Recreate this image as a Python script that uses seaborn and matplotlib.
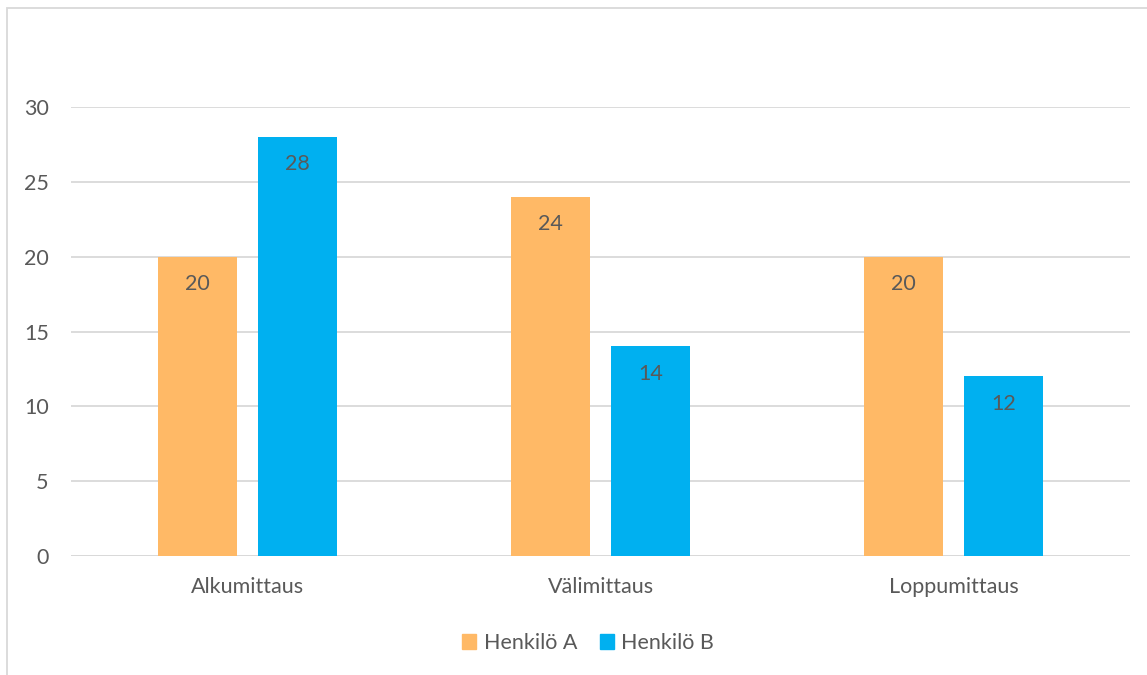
import matplotlib
matplotlib.use("Agg")
import matplotlib.pyplot as plt
import seaborn as sns
import pandas as pd
from matplotlib.patches import Rectangle

categories = ["Alkumittaus", "Välimittaus", "Loppumittaus"]
series_names = ["Henkilö A", "Henkilö B"]
henkilo_a = [20, 24, 20]
henkilo_b = [28, 14, 12]
y_ticks = [0, 5, 10, 15, 20, 25, 30]

colors = ["#FFB966", "#00B0F0"]
text_color = "#595959"
grid_color = "#D9D9D9"

df = pd.DataFrame({
    "Mittaus": categories * 2,
    "Henkilö": [series_names[0]] * 3 + [series_names[1]] * 3,
    "Arvo": henkilo_a + henkilo_b,
})

sns.set_style("white")
plt.rcParams["font.family"] = ["Lato", "DejaVu Sans"]

W, H = 1147, 675
fig = plt.figure(figsize=(W / 100, H / 100), dpi=100)
ax = fig.add_axes([71 / W, 1 - 556 / H, (1130 - 71) / W, (556 - 107) / H])

sns.barplot(data=df, x="Mittaus", y="Arvo", hue="Henkilö", palette=colors,
            order=categories, hue_order=series_names,
            width=0.5666, gap=0.21, ax=ax, legend=False, saturation=1,
            edgecolor="none", linewidth=0)

fs = 15.5
ax.set_ylim(0, 30)
ax.set_xlim(-0.5, 2.5)
ax.set_yticks(y_ticks)
ax.yaxis.grid(True, color=grid_color, linewidth=1.3)
ax.set_axisbelow(True)
for s in ax.spines.values():
    s.set_visible(False)
ax.axhline(0, color=grid_color, linewidth=1.3, zorder=0.5)
ax.set_xlabel("")
ax.set_ylabel("")
ax.tick_params(axis="both", length=0, labelsize=fs, labelcolor=text_color)
ax.tick_params(axis="y", pad=16)
ax.tick_params(axis="x", pad=15)

for cont in ax.containers:
    ax.bar_label(cont, fmt="%d", padding=-27, color=text_color, fontsize=fs)

handles = [Rectangle((0, 0), 1, 1, color=c) for c in colors]
fig.legend(handles, series_names, loc="center", bbox_to_anchor=(588 / W, 1 - 643 / H),
           ncol=2, frameon=False, fontsize=fs, labelcolor=text_color,
           handlelength=0.65, handleheight=0.65, handletextpad=0.35, columnspacing=1.05)

border = Rectangle((7.5 / W, -0.2), 1.5, 1 - 7.5 / H + 0.2, transform=fig.transFigure,
                   fill=False, edgecolor=grid_color, linewidth=1.3)
fig.patches.append(border)

fig.savefig("out.png", dpi=100)
